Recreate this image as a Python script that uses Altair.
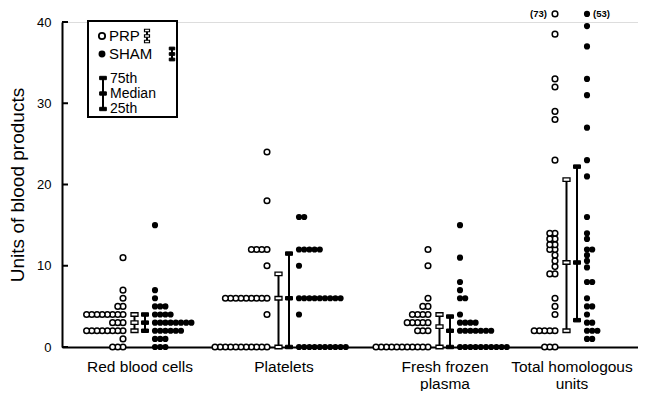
import altair as alt
import pandas as pd

# ---------------- data ----------------
categories = ["Red blood cells", "Platelets", "Fresh frozen\nplasma", "Total homologous\nunits"]

rbc_prp = [0, 0, 0, 1, 2, 2, 2, 2, 2, 2, 2, 2, 3, 3, 3, 4, 4, 4, 4, 4, 4, 4, 4, 5, 5, 6, 7, 11]
rbc_sham = [0, 0, 0, 1, 1, 1, 2, 2, 2, 2, 2, 2, 3, 3, 3, 3, 3, 3, 3, 3, 4, 4, 4, 4, 5, 5, 5, 6, 7, 15]
plt_prp = [0, 0, 0, 0, 0, 0, 0, 0, 0, 0, 0, 4, 6, 6, 6, 6, 6, 6, 6, 6, 6, 10, 12, 12, 12, 12, 18, 24]
plt_sham = [0, 0, 0, 0, 0, 0, 0, 0, 0, 0, 4, 6, 6, 6, 6, 6, 6, 6, 6, 6, 10, 12, 12, 12, 12, 12, 16, 16]
ffp_prp = [0, 0, 0, 0, 0, 0, 0, 0, 0, 0, 0, 2, 2, 2, 3, 3, 3, 3, 3, 4, 4, 4, 4, 5, 5, 6, 10, 12]
ffp_sham = [0, 0, 0, 0, 0, 0, 0, 0, 0, 0, 2, 2, 2, 2, 2, 2, 2, 3, 3, 3, 3, 4, 6, 6, 7, 8, 11, 15]
tot_prp = [0, 0, 0, 2, 2, 2, 2, 2, 4, 5, 6, 9, 9, 9.9, 10.6, 11.3, 12, 12, 12.6, 12.6,
           13.3, 13.3, 14, 14, 23, 28, 29, 32, 33, 38.5, 73]
tot_sham = [1, 1, 2, 2, 2, 3, 3, 4, 5, 5, 6, 8, 8, 9.8, 10.6, 11.3, 12, 12, 13.3, 14,
            16, 21, 23, 27, 31, 33, 37, 39.5, 53]

q25_prp = [2, 0, 0, 2]
q50_prp = [3, 6, 2.5, 10.4]
q75_prp = [4, 9, 4, 20.6]
q25_sham = [2, 0, 0, 3.3]
q50_sham = [3, 6, 2, 10.4]
q75_sham = [4, 11.5, 3.75, 22.2]

tick_values = [0, 10, 20, 30, 40]

# ---------------- layout ----------------
W, H = 576, 325
YMAX = 40
CAP_VAL = 41
BASE = [61, 205, 366, 493]
STEP = 5.2
OFF_BAR = {"PRP": 11.5, "SHAM": 22}
OFF_SHAM = 32
OFF_LABEL = 17
FONT = "Liberation Sans"

prp_sets = [rbc_prp, plt_prp, ffp_prp, tot_prp]
sham_sets = [rbc_sham, plt_sham, ffp_sham, tot_sham]

rows = []
for ci, cat in enumerate(categories):
    for grp, vals in (("PRP", prp_sets[ci]), ("SHAM", sham_sets[ci])):
        counts = {}
        for v in sorted(vals):
            k = counts.get(v, 0)
            counts[v] = k + 1
            x = BASE[ci] - k * STEP if grp == "PRP" else BASE[ci] + OFF_SHAM + k * STEP
            over = v > YMAX
            rows.append(dict(cat=cat, group=grp, value=v, x=x,
                             y=CAP_VAL if over else v,
                             note=f"({v})" if over else ""))
dots = pd.DataFrame(rows)

bar_rows, cap_rows = [], []
for ci, cat in enumerate(categories):
    for grp, q25, q50, q75 in (("PRP", q25_prp, q50_prp, q75_prp),
                               ("SHAM", q25_sham, q50_sham, q75_sham)):
        bx = BASE[ci] + OFF_BAR[grp]
        bar_rows.append(dict(cat=cat, group=grp, x=bx, q25=q25[ci], q75=q75[ci]))
        for q in (q25[ci], q50[ci], q75[ci]):
            cap_rows.append(dict(cat=cat, group=grp, x=bx, y=q))
bars = pd.DataFrame(bar_rows)
caps = pd.DataFrame(cap_rows)
labels = pd.DataFrame(dict(cat=categories, x=[b + OFF_LABEL for b in BASE]))
ticks = pd.DataFrame(dict(y=tick_values))

RECT = "M-1,-0.5L1,-0.5L1,0.5L-1,0.5Z"


def xenc(field="x"):
    return alt.X(f"{field}:Q", scale=alt.Scale(domain=[0, W], nice=False, zero=False),
                 axis=alt.Axis(labels=False, ticks=False, grid=False, title=None,
                               domainWidth=2, domainColor="black"))


def yenc(field="y"):
    return alt.Y(f"{field}:Q", scale=alt.Scale(domain=[0, YMAX], nice=False),
                 axis=alt.Axis(values=tick_values, ticks=False, tickSize=0, grid=False,
                               labelPadding=11, labelFontSize=13, labelColor="black",
                               labelFont=FONT, domainWidth=2, domainColor="black",
                               title="Units of blood products", titleFontSize=19,
                               titleFontWeight="normal", titleColor="black",
                               titleFont=FONT, titlePadding=9))


tick_layer = alt.Chart(ticks).mark_rule(color="black", strokeWidth=2).encode(
    x=alt.value(0), x2=alt.value(6), y=yenc("y"))

prp_dots = alt.Chart(dots).transform_filter(alt.datum.group == "PRP").mark_point(
    shape="circle", size=32, filled=True, fill="white", stroke="black",
    strokeWidth=1.5, opacity=1).encode(x=xenc(), y=yenc())

sham_dots = alt.Chart(dots).transform_filter(alt.datum.group == "SHAM").mark_circle(
    size=38, color="black", opacity=1).encode(x=xenc(), y=yenc())

bar_layer = alt.Chart(bars).mark_rule(color="black", strokeWidth=2).encode(
    x=xenc(), y=yenc("q25"), y2="q75:Q")

prp_caps = alt.Chart(caps).transform_filter(alt.datum.group == "PRP").mark_point(
    shape=RECT, size=49, filled=True, fill="white", stroke="black",
    strokeWidth=1.3, opacity=1).encode(x=xenc(), y=yenc())

sham_caps = alt.Chart(caps).transform_filter(alt.datum.group == "SHAM").mark_point(
    shape=RECT, size=49, filled=True, fill="black", stroke="black",
    strokeWidth=1, opacity=1).encode(x=xenc(), y=yenc())

notes_prp = alt.Chart(dots).transform_filter(
    (alt.datum.note != "") & (alt.datum.group == "PRP")).mark_text(
    align="right", baseline="middle", dx=-8, fontSize=9.5, fontWeight="bold",
    font=FONT, color="black").encode(x=xenc(), y=yenc(), text="note:N")

notes_sham = alt.Chart(dots).transform_filter(
    (alt.datum.note != "") & (alt.datum.group == "SHAM")).mark_text(
    align="left", baseline="middle", dx=6, fontSize=9.5, fontWeight="bold",
    font=FONT, color="black").encode(x=xenc(), y=yenc(), text="note:N")

cat_labels = alt.Chart(labels).mark_text(
    align="center", baseline="top", fontSize=15.5, lineHeight=17, lineBreak="\n",
    font=FONT, color="black").encode(x=xenc(), y=alt.value(H + 13), text="cat:N")

# ---------------- legend (pixel positions inside the plot) ----------------
legend_box = pd.DataFrame(dict(x1=[26], x2=[115], y1=[-1], y2=[95]))
legend_text = pd.DataFrame(dict(
    px=[47, 47, 48, 48, 48], py=[14, 32, 57, 72, 87],
    t=["PRP", "SHAM", "75th", "Median", "25th"],
    fs=[15, 15, 14, 14, 14]))
legend_sym = pd.DataFrame(dict(px=[40, 40], py=[14, 32], g=["PRP", "SHAM"]))
legend_whisk = pd.DataFrame(dict(
    px=[85, 110, 41], top=[8.5, 26.5, 56], bot=[19.5, 37.5, 87], g=["PRP", "SHAM", "KEY"]))
legend_caps = pd.DataFrame(dict(
    px=[85, 85, 85, 110, 110, 110, 41, 41, 41],
    py=[8.5, 14, 19.5, 26.5, 32, 37.5, 56, 71.5, 87],
    g=["PRP"] * 3 + ["SHAM"] * 3 + ["KEY"] * 3))

PX = alt.X("px:Q", scale=None, axis=None)
PY = alt.Y("py:Q", scale=None, axis=None)

lg_box = alt.Chart(legend_box).mark_rect(fill="white", stroke="black", strokeWidth=2).encode(
    x=alt.X("x1:Q", scale=None, axis=None), x2="x2:Q",
    y=alt.Y("y1:Q", scale=None, axis=None), y2="y2:Q")
lg_text = alt.Chart(legend_text).mark_text(
    align="left", baseline="middle", font=FONT, color="black").encode(
    x=PX, y=PY, text="t:N", size=alt.Size("fs:Q", scale=None, legend=None))
lg_prp = alt.Chart(legend_sym).transform_filter(alt.datum.g == "PRP").mark_point(
    shape="circle", size=40, filled=True, fill="white", stroke="black",
    strokeWidth=1.8, opacity=1).encode(x=PX, y=PY)
lg_sham = alt.Chart(legend_sym).transform_filter(alt.datum.g == "SHAM").mark_circle(
    size=48, color="black", opacity=1).encode(x=PX, y=PY)
lg_whisk = alt.Chart(legend_whisk).mark_rule(color="black", strokeWidth=2).encode(
    x=PX, y=alt.Y("top:Q", scale=None, axis=None), y2="bot:Q")
lg_caps_open = alt.Chart(legend_caps).transform_filter(alt.datum.g == "PRP").mark_point(
    shape=RECT, size=25, filled=True, fill="white", stroke="black", strokeWidth=1.2,
    opacity=1).encode(x=PX, y=PY)
lg_caps_small = alt.Chart(legend_caps).transform_filter(alt.datum.g == "SHAM").mark_point(
    shape=RECT, size=30, filled=True, fill="black", stroke="black", strokeWidth=1,
    opacity=1).encode(x=PX, y=PY)
lg_caps_key = alt.Chart(legend_caps).transform_filter(alt.datum.g == "KEY").mark_point(
    shape=RECT, size=45, filled=True, fill="black", stroke="black", strokeWidth=1,
    opacity=1).encode(x=PX, y=PY)

chart = alt.layer(
    tick_layer, prp_dots, sham_dots, bar_layer, prp_caps, sham_caps,
    notes_prp, notes_sham, cat_labels,
    lg_box, lg_text, lg_prp, lg_sham, lg_whisk, lg_caps_open, lg_caps_small, lg_caps_key,
).properties(
    width=W, height=H,
    padding={"left": 54, "top": 14, "right": 0, "bottom": 44},
    autosize=alt.AutoSizeParams(type="none"),
).configure_view(stroke=None).configure(font=FONT)

chart.save("out.html", embed_options={"renderer": "svg", "actions": False})
